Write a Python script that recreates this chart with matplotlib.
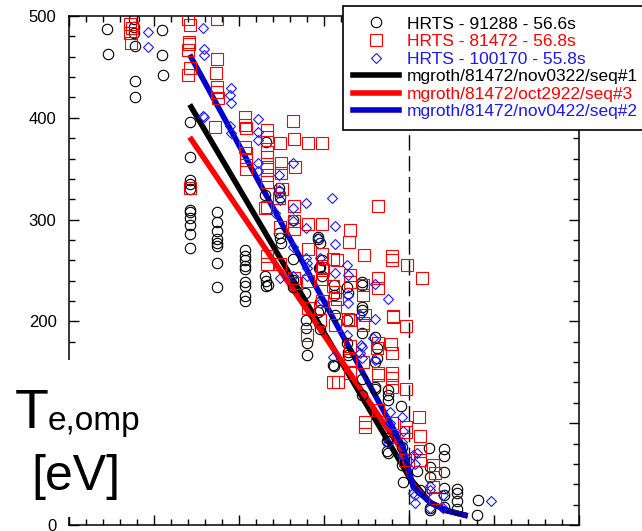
import matplotlib
matplotlib.use("Agg")
import matplotlib.pyplot as plt
from matplotlib.ticker import MultipleLocator
from matplotlib.patches import Rectangle
from matplotlib.lines import Line2D

# R - R_sep [cm] and Te [eV]
hrts_91288_dr = [-3.55, -3.54, -3.24, -3.24, -3.24, -3.22, -3.22, -3.22, -2.91, -2.91, -2.89,
                 -2.58, -2.58, -2.58, -2.58, -2.58, -2.58, -2.58, -2.58, -2.58, -2.58, -2.58,
                 -2.26, -2.26, -2.26, -2.26, -2.26, -2.26, -2.26, -2.26,
                 -1.93, -1.93, -1.93, -1.93, -1.93, -1.93, -1.93, -1.93, -1.93,
                 -1.68, -1.69, -1.69, -1.68, -1.68, -1.66,
                 -1.53, -1.53, -1.52, -1.53, -1.52, -1.51,
                 -1.36, -1.36, -1.36, -1.36, -1.22,
                 -1.07, -1.07, -1.05, -1.06, -1.02, -1.02, -1.05, -1.05, -1.05,
                 -1.21, -1.21, -1.20, -1.20, -1.07, -1.05, -0.89,
                 -0.88, -0.88, -0.87, -0.88,
                 -0.73, -0.72, -0.73, -0.73, -0.72, -0.72,
                 -0.55, -0.55, -0.55, -0.55, -0.55, -0.55, -0.55,
                 -0.40, -0.38, -0.38, -0.40, -0.40, -0.40,
                 -0.25, -0.25, -0.25, -0.09, -0.25, -0.25, -0.26, -0.26,
                 -0.08, -0.07, -0.08, 0.09, 0.13,
                 0.24, 0.41, 0.41, 0.41, 0.25, 0.25, 0.41, 0.41,
                 0.56, 0.56, 0.56, 0.56, 0.41, 0.25, 0.25, 0.81, 0.80]
hrts_91288_te = [487, 463, 497, 489, 483, 471, 436, 420, 486, 462, 442,
                 396, 361, 339, 335, 330, 309, 307, 302, 295, 286, 272,
                 307, 298, 289, 281, 277, 274, 257, 234,
                 270, 264, 260, 254, 251, 239, 235, 225, 220,
                 376, 324, 245, 240, 235, 236,
                 331, 327, 322, 287, 282, 277,
                 300, 261, 241, 234, 228,
                 283, 281, 277, 252, 245, 260, 253, 219, 211,
                 201, 194, 179, 167, 209, 193, 157,
                 236, 226, 206, 156,
                 234, 228, 201, 179, 170, 167,
                 239, 236, 214, 211, 189, 143, 128,
                 185, 174, 164, 160, 136, 134,
                 133, 128, 123, 117, 85, 71, 83, 73,
                 77, 42, 59, 53, 34,
                 76, 75, 68, 52, 57, 47, 36, 29,
                 35, 31, 24, 16, 18, 17, 15, 25, 10]

hrts_81472_dr = [-3.28, -3.26, -3.28, -3.27,
                 -2.60, -2.58, -2.59, -2.59, -2.60, -2.58, -2.60, -2.58,
                 -2.26, -2.26, -2.27, -2.26, -2.26, -2.25, -2.28,
                 -1.93, -1.93, -1.92, -1.93, -1.92, -1.92, -1.92,
                 -1.67, -1.67, -1.67, -1.67, -1.67, -1.67, -1.67, -1.67, -1.69, -1.67, -1.67,
                 -1.52, -1.51, -1.51, -1.49, -1.53, -1.52, -1.52,
                 -1.36, -1.35, -1.34, -1.35, -1.35, -1.35, -1.35, -1.34,
                 -1.19, -1.02, -1.19, -1.02, -1.19, -1.19, -1.19, -1.20,
                 -1.02, -1.02, -1.02, -1.02, -1.01, -1.05,
                 -0.89, -0.89, -0.85, -0.87, -0.87, -0.87, -0.85, -0.84, -0.89,
                 -0.69, -0.69, -0.69, -0.69, -0.69, -0.69, -0.71, -0.69, -0.72,
                 -0.54, -0.54, -0.54, -0.54, -0.52, -0.52, -0.52, -0.54, -0.53,
                 -0.36, -0.36, -0.36, -0.38, -0.36, -0.36, -0.36, -0.36,
                 -0.20, -0.19, -0.21, -0.20, -0.20, -0.20, -0.20, -0.20, -0.19, -0.20,
                 -0.02, -0.04, -0.04, -0.04, -0.04, -0.05,
                 0.15, 0.12, 0.13, 0.13, 0.13, 0.28, 0.31, 0.28, 0.31]
hrts_81472_te = [492, 488, 483, 473,
                 497, 491, 474, 472, 467, 449, 442, 331,
                 497, 458, 444, 430, 425, 419, 391,
                 401, 393, 390, 371, 365, 359, 350,
                 388, 381, 366, 361, 352, 344, 337, 312, 311, 264, 256,
                 375, 356, 346, 330, 321, 293, 256,
                 397, 379, 352, 313, 299, 291, 243, 238,
                 375, 375, 296, 296, 271, 240, 213, 187,
                 266, 252, 242, 220, 250, 201,
                 261, 235, 260, 229, 214, 196, 222, 140, 140,
                 239, 201, 176, 162, 149, 290, 278, 246, 202,
                 236, 226, 198, 160, 101, 96, 206, 196, 265,
                 243, 233, 179, 174, 149, 147, 113, 313,
                 260, 204, 178, 169, 149, 144, 136, 100, 205, 264,
                 255, 195, 134, 96, 91, 64,
                 243, 106, 87, 73, 64, 59, 51, 37, 27]

hrts_100170_dr = [-3.07, -3.07, -2.42, -2.41, -2.41, -2.42, -2.41,
                  -2.09, -2.11, -2.09, -2.11, -2.09,
                  -1.78, -1.78, -1.78, -1.78, -1.78,
                  -1.58, -1.53, -1.53, -1.52, -1.52,
                  -1.36, -1.36, -1.36, -1.36, -1.36,
                  -1.21, -1.21, -1.20, -1.21, -1.20, -1.20,
                  -1.05, -1.02, -1.07, -0.91,
                  -0.87, -0.87, -0.87, -0.89,
                  -0.73, -0.72, -0.72, -0.72, -0.73,
                  -0.58, -0.55, -0.58, -0.55, -0.56,
                  -0.40, -0.40, -0.42, -0.40,
                  -0.25, -0.22, -0.22, -0.25,
                  -0.08, -0.08, -0.08, -0.07,
                  0.09, 0.07, 0.05, 0.07, 0.05, 0.07,
                  0.25, 0.25, 0.40, 0.40, 0.96, 0.25]
hrts_100170_te = [484, 470, 488, 468, 462, 402, 401,
                  429, 422, 415, 392, 385,
                  399, 386, 378, 356, 348,
                  306, 344, 329, 319, 243,
                  356, 311, 299, 273, 245,
                  316, 292, 257, 262, 252, 245,
                  262, 220, 282, 321,
                  294, 276, 248, 165,
                  255, 246, 226, 218, 187,
                  206, 175, 169, 164, 177,
                  237, 202, 184, 162,
                  222, 111, 100, 81,
                  106, 82, 69, 92,
                  71, 60, 31, 22, 69, 29,
                  38, 17, 17, 29, 24, 34]

# EDGE2D runs
seq1_dr = [-2.58, 0.01, 0.25, 0.45, 0.69]
seq1_te = [413, 46, 22, 14, 9]
seq3_dr = [-2.58, -0.11, 0.05, 0.25, 0.45, 0.69]
seq3_te = [381, 77, 39, 22, 14, 9]
seq2_dr = [-2.58, -0.07, 0.05, 0.25, 0.45, 0.69]
seq2_te = [462, 77, 37, 22, 14, 9]

labels = ["HRTS - 91288 - 56.6s", "HRTS - 81472 - 56.8s", "HRTS - 100170 - 55.8s",
          "mgroth/81472/nov0322/seq#1", "mgroth/81472/oct2922/seq#3",
          "mgroth/81472/nov0422/seq#2"]
label_colors = ["black", "red", "#1a1aee", "black", "red", "#1a1aee"]

plt.rcParams['font.family'] = ['Liberation Sans', 'DejaVu Sans']

fig = plt.figure(figsize=(6.42, 5.31), dpi=100)
ax = fig.add_axes([0.1075, 0.0113, 0.7944, 0.9586])

ax.axvline(0, color="black", lw=1.0, ls=(0, (11, 4)), zorder=1)

ax.plot(seq1_dr, seq1_te, color="black", lw=4, zorder=2, solid_capstyle="butt")
ax.plot(seq3_dr, seq3_te, color="red", lw=4, zorder=2, solid_capstyle="butt")
ax.plot(seq2_dr, seq2_te, color="#0000cc", lw=4, zorder=2, solid_capstyle="butt")

ax.plot(hrts_91288_dr, hrts_91288_te, ls="none", marker="o", ms=7.5, mfc="none",
        mec="black", mew=0.8, zorder=3)
ax.plot(hrts_81472_dr, hrts_81472_te, ls="none", marker="s", ms=8, mfc="none",
        mec="red", mew=0.8, zorder=3)
ax.plot(hrts_100170_dr, hrts_100170_te, ls="none", marker="D", ms=5.5, mfc="none",
        mec="#1a1aee", mew=0.8, zorder=3)

ax.set_xlim(-4, 2)
ax.set_ylim(0, 500)
ax.xaxis.set_major_locator(MultipleLocator(1))
ax.xaxis.set_minor_locator(MultipleLocator(0.2))
ax.yaxis.set_major_locator(MultipleLocator(100))
ax.yaxis.set_minor_locator(MultipleLocator(20))
ax.tick_params(which="both", direction="in", top=True, right=True, width=1,
               labelbottom=False, labelsize=12, pad=9)
ax.tick_params(which="major", length=7)
ax.tick_params(which="minor", length=4)
for s in ax.spines.values():
    s.set_linewidth(1.1)

handles = [
    Line2D([], [], ls="none", marker="o", ms=7.5, mfc="none", mec="black", mew=0.8),
    Line2D([], [], ls="none", marker="s", ms=8, mfc="none", mec="red", mew=0.8),
    Line2D([], [], ls="none", marker="D", ms=5.5, mfc="none", mec="#1a1aee", mew=0.8),
    Line2D([], [], color="black", lw=4),
    Line2D([], [], color="red", lw=4),
    Line2D([], [], color="#0000cc", lw=4),
]
leg = fig.legend(handles, labels, loc="upper left", bbox_to_anchor=(343 / 642, 1 - 6 / 531),
                 fontsize=12.5, frameon=True, fancybox=False, framealpha=1,
                 edgecolor="black", handlelength=2.6, handletextpad=0.5,
                 labelspacing=0.14, borderpad=0.6, borderaxespad=0, numpoints=1)
leg.get_frame().set_linewidth(1.2)
for t, c in zip(leg.get_texts(), label_colors):
    t.set_color(c)

# white block behind the y label hides the spine there, like the original
fig.add_artist(Rectangle((0, 1 - 517 / 531), 125 / 642, 157 / 531,
                         transform=fig.transFigure, facecolor="white",
                         edgecolor="none", zorder=5))
fig.text(15 / 642, 1 - 428 / 531, "T", fontsize=40, va="baseline", ha="left", zorder=6)
fig.text(48 / 642, 1 - 430 / 531, "e,omp", fontsize=24, va="baseline", ha="left", zorder=6)
fig.text(31 / 642, 1 - 490 / 531, "[eV]", fontsize=36, va="baseline", ha="left", zorder=6)

fig.savefig("out.png", dpi=100)
